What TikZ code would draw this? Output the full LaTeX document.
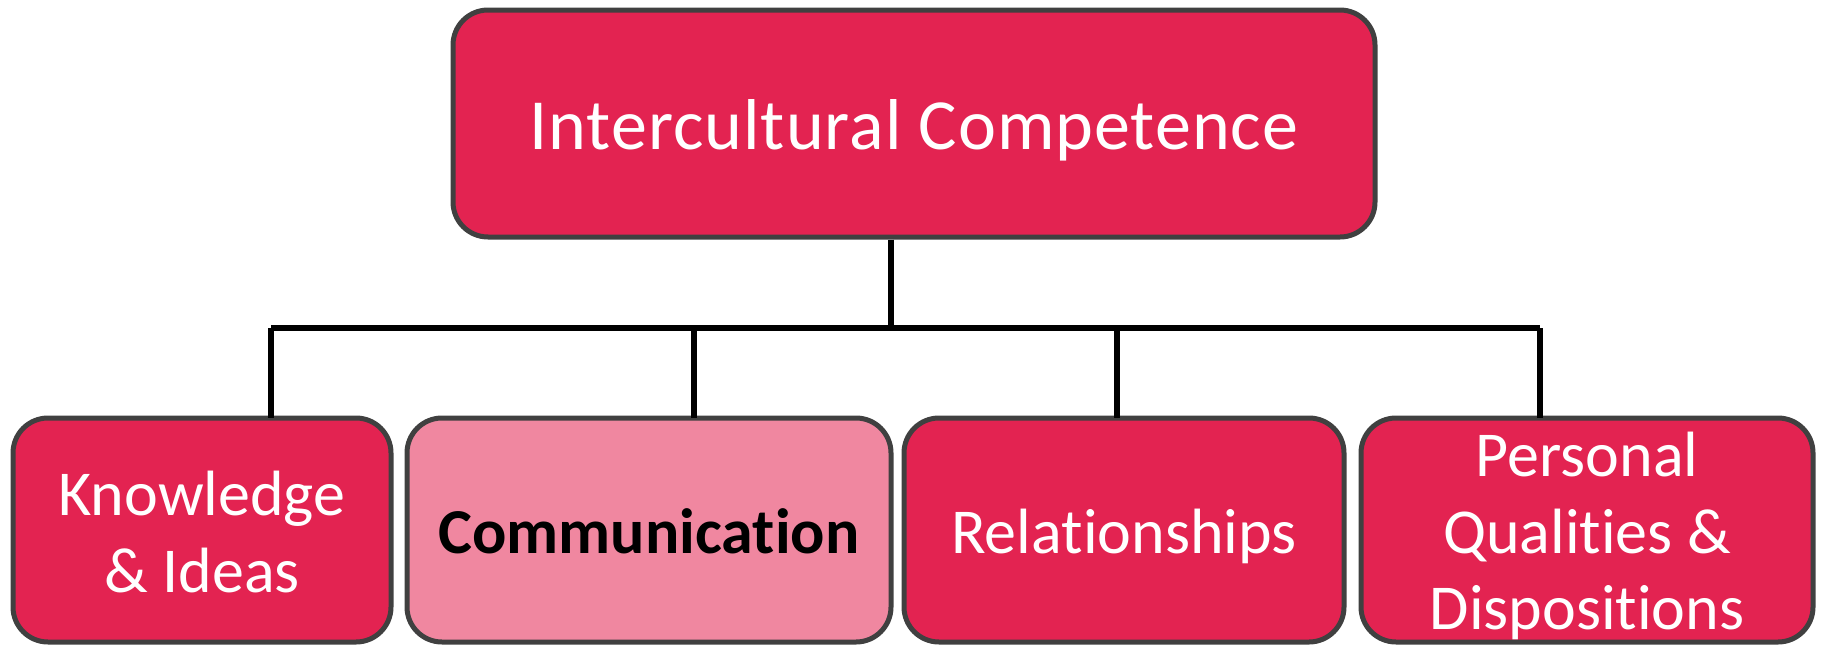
\documentclass[tikz,border=0pt]{standalone}
\usepackage{fontspec}
\setmainfont{Carlito}[Ligatures=NoCommon]
\definecolor{cred}{RGB}{227,35,81}
\definecolor{cpink}{RGB}{240,135,160}
\definecolor{cborder}{RGB}{64,64,64}
\begin{document}
\begin{tikzpicture}[x=1pt,y=-1pt,
  box/.style={draw=cborder,line width=5pt,rounded corners=35pt,inner sep=0pt,outer sep=0pt},
  conn/.style={draw=black,line width=6pt,line cap=butt},
  big/.style={font=\fontsize{72}{86}\selectfont\addfontfeature{LetterSpace=1.4},text=white,anchor=base,inner sep=0pt},
  sm/.style={font=\fontsize{64}{77}\selectfont,text=white,anchor=base,inner sep=0pt}]
\useasboundingbox (0,0) rectangle (1822,645);
% boxes
\node[box,fill=cred,minimum width=922pt,minimum height=227pt] (top) at (914,123.5) {};
\node[box,fill=cred,minimum width=378pt,minimum height=224pt] (k) at (202,530) {};
\node[box,fill=cpink,minimum width=484pt,minimum height=224pt] (c) at (649,530) {};
\node[box,fill=cred,minimum width=440pt,minimum height=224pt] (r) at (1124,530) {};
\node[box,fill=cred,minimum width=452pt,minimum height=224pt] (p) at (1587,530) {};
% connector coordinates
\coordinate (hub) at (891,328);
\coordinate (bl) at (271,328);
\coordinate (j2) at (694,328);
\coordinate (j3) at (1117,328);
\coordinate (br) at (1540,328);
% connectors
\draw[conn,shorten <=2.5pt] (top.south -| hub) -- (hub);
\draw[conn] (bl) -- (br);
\draw[conn] (bl) -- (k.north -| bl);
\draw[conn] (j2) -- (c.north -| j2);
\draw[conn] (j3) -- (r.north -| j3);
\draw[conn] (br) -- (p.north -| br);
% texts
\node[big] (t0) at (914,149) {Intercultural Competence};
\node[sm] (k1) at (202,515) {Knowledge};
\node[sm] (k2) at (202,592) {\& Ideas};
\node[sm,text=black,font=\fontsize{64}{77}\selectfont\bfseries] (c1) at (649,553) {Communication};
\node[sm] (r1) at (1124,553) {Relationships};
\node[sm] (p1) at (1587,476) {Personal};
\node[sm] (p2) at (1587,553) {Qualities \&};
\node[sm] (p3) at (1587,629) {Dispositions};
\end{tikzpicture}
\end{document}
